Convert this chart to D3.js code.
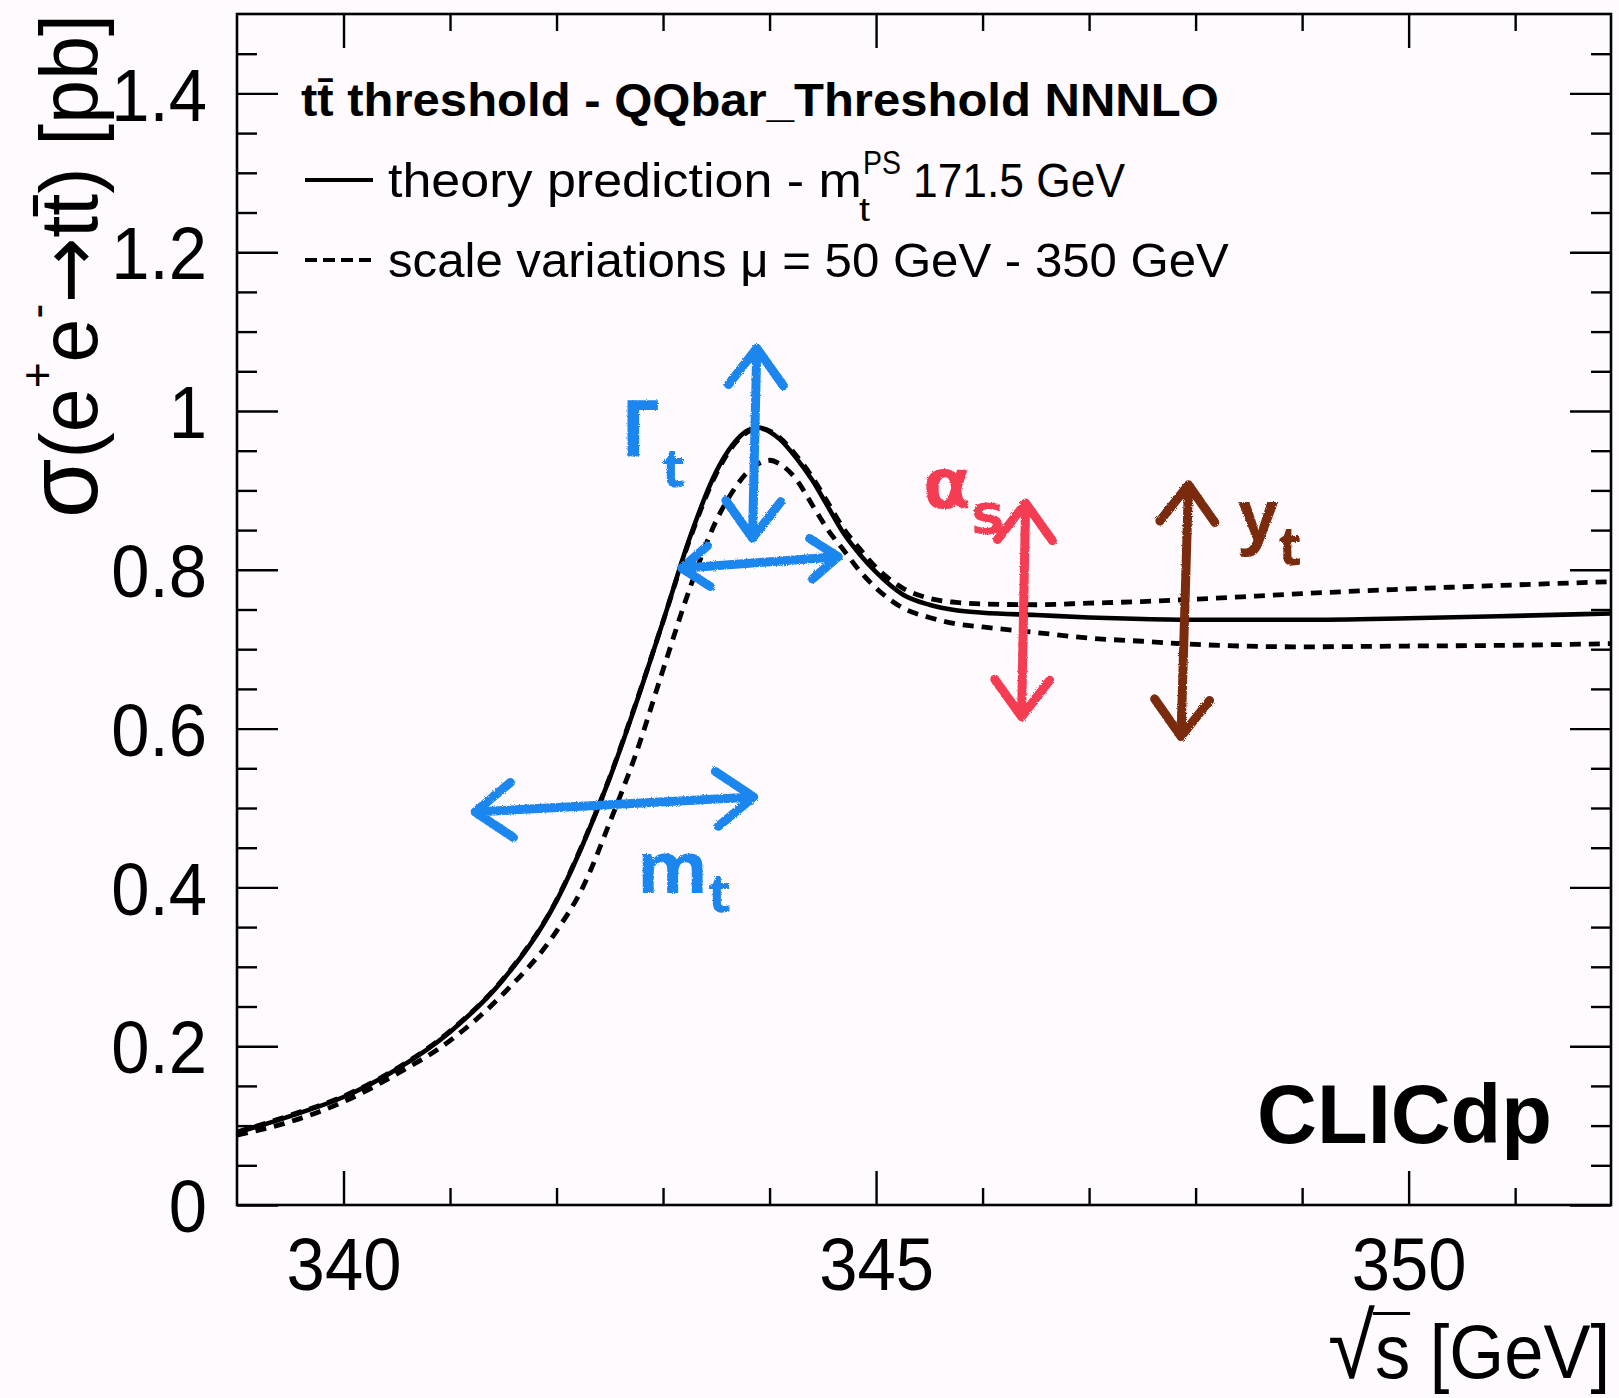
<!DOCTYPE html>
<html>
<head>
<meta charset="utf-8">
<script src="https://cdn.jsdelivr.net/npm/d3@7"></script>
<style>
  html, body { margin: 0; padding: 0; background: #fefafe; }
  svg { display: block; }
  text { font-family: "Liberation Sans", Arial, Helvetica, sans-serif; fill: #000; }
  .hand { font-family: "Noto Sans", "DejaVu Sans", sans-serif; font-weight: 700; }
</style>
</head>
<body>
<div id="chart"></div>
<script>
/* * * * * * * * * * * * * * * * * * * *
 *   ttbar threshold scan (CLICdp)       *
 * * * * * * * * * * * * * * * * * * * */

// axis ranges and ticks
const xDomain = [339, 351.9];
const yDomain = [0, 1.5];
const xMajorTicks = [340, 345, 350];
const xTickLabels = ["340", "345", "350"];
const yMajorTicks = [0, 0.2, 0.4, 0.6, 0.8, 1.0, 1.2, 1.4];
const yTickLabels = ["0", "0.2", "0.4", "0.6", "0.8", "1", "1.2", "1.4"];

// sqrt(s) grid [GeV]
const energies = [339, 339.5, 340, 340.5, 341, 341.5, 342, 342.25, 342.5, 342.75,
  343, 343.25, 343.5, 343.65, 343.8, 343.9, 344.0, 344.1, 344.25, 344.4,
  344.55, 344.7, 344.85, 345, 345.25, 345.5, 345.75, 346, 346.5, 347,
  347.5, 348, 349, 350, 351, 351.9];

// theory prediction, m_t^PS = 171.5 GeV [pb]
const theory = [0.091, 0.112, 0.136, 0.171, 0.218, 0.284, 0.383, 0.455, 0.538, 0.633,
  0.735, 0.840, 0.924, 0.957, 0.976, 0.979, 0.974, 0.964, 0.941, 0.913,
  0.879, 0.845, 0.819, 0.797, 0.769, 0.756, 0.749, 0.746, 0.743, 0.740,
  0.738, 0.737, 0.737, 0.739, 0.742, 0.745];

// scale variations mu = 50 .. 350 GeV [pb]
const scaleUp = [0.092, 0.113, 0.137, 0.172, 0.219, 0.285, 0.384, 0.456, 0.539, 0.634,
  0.735, 0.838, 0.921, 0.955, 0.974, 0.978, 0.975, 0.966, 0.944, 0.917,
  0.884, 0.851, 0.826, 0.803, 0.777, 0.764, 0.759, 0.757, 0.756, 0.758,
  0.760, 0.763, 0.770, 0.776, 0.781, 0.785];
const scaleDown = [0.088, 0.105, 0.130, 0.165, 0.207, 0.266, 0.345, 0.401, 0.482, 0.570,
  0.674, 0.776, 0.862, 0.898, 0.924, 0.934, 0.938, 0.933, 0.914, 0.882,
  0.850, 0.824, 0.798, 0.777, 0.752, 0.740, 0.732, 0.728, 0.721, 0.714,
  0.710, 0.706, 0.703, 0.704, 0.705, 0.707];

// hand drawn arrows (data units), a head at both ends
const arrowStart = [[343.84, 0.840], [343.175, 0.802], [341.235, 0.495], [346.366, 0.615], [347.863, 0.590]];
const arrowEnd = [[343.88, 1.079], [344.645, 0.8165], [343.851, 0.514], [346.404, 0.884], [347.933, 0.907]];
const arrowInk = ["blue", "blue", "blue", "red", "brown"];

// hand written labels next to the arrows
const noteMain = ["Γ", "m", "α", "y"];
const noteSub = ["t", "t", "s", "t"];
const notePos = [[342.60, 0.942], [342.76, 0.393], [345.44, 0.878], [348.40, 0.8375]];
const noteInk = ["blue", "blue", "red", "brown"];

const inks = { blue: "#1e86ef", red: "#f43d52", brown: "#7a2c0b" };

const width = 1619, height = 1398;
const frame = { left: 237, right: 1611, top: 14, bottom: 1205 };
const SX = 0.93; // ROOT's helvetica comes out a bit narrower

const svg = d3.select("#chart").append("svg")
  .attr("width", width)
  .attr("height", height);

svg.append("rect").attr("width", width).attr("height", height).attr("fill", "#fefafe");

const x = d3.scaleLinear().domain(xDomain).range([frame.left, frame.right]);
const y = d3.scaleLinear().domain(yDomain).range([frame.bottom, frame.top]);

// minor ticks
const xMinor = d3.range(341, 352, 1).filter(d => !xMajorTicks.includes(d));
const yMinor = d3.range(0.05, 1.5, 0.05).filter(d => Math.abs(d * 5 - Math.round(d * 5)) > 1e-6);

function tickStyle(g) {
  g.select(".domain").remove();
  g.selectAll("line").attr("stroke", "#000").attr("stroke-width", 2.4);
}

// bottom axis
svg.append("g")
  .attr("transform", `translate(0,${frame.bottom})`)
  .call(d3.axisBottom(x).tickValues(xMajorTicks).tickSizeInner(-34).tickSizeOuter(0)
    .tickPadding(32).tickFormat((d, i) => xTickLabels[i]))
  .call(tickStyle)
  .call(g => g.selectAll("text")
    .attr("font-size", 74)
    .attr("transform", `scale(${SX},1)`));

svg.append("g")
  .attr("transform", `translate(0,${frame.bottom})`)
  .call(d3.axisBottom(x).tickValues(xMinor).tickSizeInner(-17).tickSizeOuter(0).tickFormat(""))
  .call(tickStyle);

// top axis (ticks only)
svg.append("g")
  .attr("transform", `translate(0,${frame.top})`)
  .call(d3.axisTop(x).tickValues(xMajorTicks).tickSizeInner(-34).tickSizeOuter(0).tickFormat(""))
  .call(tickStyle);
svg.append("g")
  .attr("transform", `translate(0,${frame.top})`)
  .call(d3.axisTop(x).tickValues(xMinor).tickSizeInner(-17).tickSizeOuter(0).tickFormat(""))
  .call(tickStyle);

// left axis
svg.append("g")
  .attr("transform", `translate(${frame.left},0)`)
  .call(d3.axisLeft(y).tickValues(yMajorTicks).tickSizeInner(-41).tickSizeOuter(0)
    .tickPadding(30).tickFormat((d, i) => yTickLabels[i]))
  .call(tickStyle)
  .call(g => g.selectAll("text")
    .attr("font-size", 74)
    .attr("x", -30 / SX)
    .attr("dy", "0.36em")
    .attr("transform", `scale(${SX},1)`));
svg.append("g")
  .attr("transform", `translate(${frame.left},0)`)
  .call(d3.axisLeft(y).tickValues(yMinor).tickSizeInner(-20).tickSizeOuter(0).tickFormat(""))
  .call(tickStyle);

// right axis (ticks only)
svg.append("g")
  .attr("transform", `translate(${frame.right},0)`)
  .call(d3.axisRight(y).tickValues(yMajorTicks).tickSizeInner(-41).tickSizeOuter(0).tickFormat(""))
  .call(tickStyle);
svg.append("g")
  .attr("transform", `translate(${frame.right},0)`)
  .call(d3.axisRight(y).tickValues(yMinor).tickSizeInner(-20).tickSizeOuter(0).tickFormat(""))
  .call(tickStyle);

// curves
svg.append("clipPath").attr("id", "plotArea")
  .append("rect")
  .attr("x", frame.left).attr("y", frame.top)
  .attr("width", frame.right - frame.left).attr("height", frame.bottom - frame.top);

const line = d3.line()
  .x((d, i) => x(energies[i]))
  .y(d => y(d))
  .curve(d3.curveMonotoneX);

const curves = svg.append("g").attr("clip-path", "url(#plotArea)");

[scaleUp, scaleDown].forEach(series => {
  curves.append("path")
    .datum(series)
    .attr("d", line)
    .attr("fill", "none")
    .attr("stroke", "#000")
    .attr("stroke-width", 4.8)
    .attr("stroke-dasharray", "11,8");
});

curves.append("path")
  .datum(theory)
  .attr("d", line)
  .attr("fill", "none")
  .attr("stroke", "#000")
  .attr("stroke-width", 4.6);

// frame
svg.append("rect")
  .attr("x", frame.left).attr("y", frame.top)
  .attr("width", frame.right - frame.left).attr("height", frame.bottom - frame.top)
  .attr("fill", "none")
  .attr("stroke", "#000")
  .attr("stroke-width", 2.6);

// squeeze a text element so it spans the width measured on the original
function fitText(sel, px, py, target, rotate) {
  const len = sel.node().getComputedTextLength();
  const s = target / len;
  sel.attr("transform", `translate(${px},${py})` + (rotate ? ` rotate(${rotate})` : "") + ` scale(${s},1)`);
  return s;
}

// x axis title, sqrt(s) with its bar
const xTitle = svg.append("text").attr("font-size", 76).attr("text-anchor", "end");
xTitle.append("tspan").text("√").attr("font-size", 92);
xTitle.append("tspan").text("s");
xTitle.append("tspan").text(" [GeV]");
const xs = fitText(xTitle, 1610, 1378, 282);
const rootBox = xTitle.node().getExtentOfChar(0);
const sBox = xTitle.node().getExtentOfChar(1);
svg.append("line")
  .attr("x1", 1610 + xs * (rootBox.x + rootBox.width) - 2)
  .attr("x2", 1610 + xs * (sBox.x + sBox.width))
  .attr("y1", 1378 - 0.7 * 92).attr("y2", 1378 - 0.7 * 92)
  .attr("stroke", "#000").attr("stroke-width", 3);

// y axis title
const yTitle = svg.append("text").attr("font-size", 82).attr("text-anchor", "end");
yTitle.append("tspan").text("σ").attr("font-size", 100);
yTitle.append("tspan").text("(e");
yTitle.append("tspan").text("+").attr("font-size", 46).attr("dy", -44);
yTitle.append("tspan").text("e").attr("dy", 44);
yTitle.append("tspan").text("-").attr("font-size", 46).attr("dy", -44);
yTitle.append("tspan").text("→").attr("dy", 44).style("font-family", "DejaVu Sans");
yTitle.append("tspan").text("tt\u0304) [pb]");
fitText(yTitle, 97, 14, 504, -90);

// legend
const legend = svg.append("g");

const legTitle = legend.append("text")
  .attr("font-size", 47).attr("font-weight", 700)
  .text("tt\u0304 threshold - QQbar_Threshold NNNLO");
fitText(legTitle, 301, 116, 918);

legend.append("line")
  .attr("x1", 305).attr("x2", 373).attr("y1", 180).attr("y2", 180)
  .attr("stroke", "#000").attr("stroke-width", 4);
legend.append("line")
  .attr("x1", 305).attr("x2", 373).attr("y1", 260).attr("y2", 260)
  .attr("stroke", "#000").attr("stroke-width", 4).attr("stroke-dasharray", "12,6");

fitText(legend.append("text").attr("font-size", 49).text("theory prediction - m"), 388, 197, 474);
fitText(legend.append("text").attr("font-size", 33).text("PS"), 863, 174, 38);
fitText(legend.append("text").attr("font-size", 33).text("t"), 859, 221, 11);
fitText(legend.append("text").attr("font-size", 49).text("171.5 GeV"), 913, 197, 212);
fitText(legend.append("text").attr("font-size", 49).text("scale variations μ = 50 GeV - 350 GeV"), 388, 277, 841);

// experiment label
fitText(svg.append("text").attr("font-size", 84).attr("font-weight", 700)
  .attr("text-anchor", "end").text("CLICdp"), 1552, 1143, 295);

// hand drawn annotations
const pencil = svg.append("filter").attr("id", "pencil");
pencil.append("feTurbulence").attr("type", "fractalNoise").attr("baseFrequency", 0.9)
  .attr("numOctaves", 2).attr("result", "noise");
pencil.append("feDisplacementMap").attr("in", "SourceGraphic").attr("in2", "noise").attr("scale", 3);

function head(tip, from, len, ang) {
  const dx = tip[0] - from[0], dy = tip[1] - from[1];
  const n = Math.hypot(dx, dy);
  const ux = dx / n, uy = dy / n;
  const arm = a => [tip[0] - len * (ux * Math.cos(a) - uy * Math.sin(a)),
                    tip[1] - len * (ux * Math.sin(a) + uy * Math.cos(a))];
  const p = arm(ang), q = arm(-ang);
  return `M${p[0]},${p[1]}L${tip[0]},${tip[1]}L${q[0]},${q[1]}`;
}

const notes = svg.append("g").attr("filter", "url(#pencil)");

notes.selectAll(".arrow")
  .data(arrowStart)
  .join("path")
  .attr("class", "arrow")
  .attr("d", (d, i) => {
    const a = [x(d[0]), y(d[1])];
    const b = [x(arrowEnd[i][0]), y(arrowEnd[i][1])];
    const len = i === 1 ? 34 : 46;
    return `M${a[0]},${a[1]}L${b[0]},${b[1]}` + head(a, b, len, 0.64) + head(b, a, len, 0.64);
  })
  .attr("fill", "none")
  .attr("stroke", (d, i) => inks[arrowInk[i]])
  .attr("stroke-width", 9)
  .attr("stroke-linecap", "round")
  .attr("stroke-linejoin", "round");

// letter size and subscript offset for each handwritten label
const noteSize = [78, 72, 70, 70];
const subSize = [54, 54, 56, 54];
const subShift = [[0, 30], [0, 19], [0, 25], [0, 25]];

const noteText = notes.selectAll(".note")
  .data(noteMain)
  .join("text")
  .attr("class", "note hand")
  .attr("x", (d, i) => x(notePos[i][0]))
  .attr("y", (d, i) => y(notePos[i][1]))
  .attr("font-size", (d, i) => noteSize[i])
  .style("font-family", d => d === "α" ? "DejaVu Sans" : null)
  .style("fill", (d, i) => inks[noteInk[i]]);

noteText.append("tspan").text(d => d);
noteText.append("tspan")
  .text((d, i) => noteSub[i])
  .attr("font-size", (d, i) => subSize[i])
  .attr("dx", (d, i) => subShift[i][0])
  .attr("dy", (d, i) => subShift[i][1]);
</script>
</body>
</html>
